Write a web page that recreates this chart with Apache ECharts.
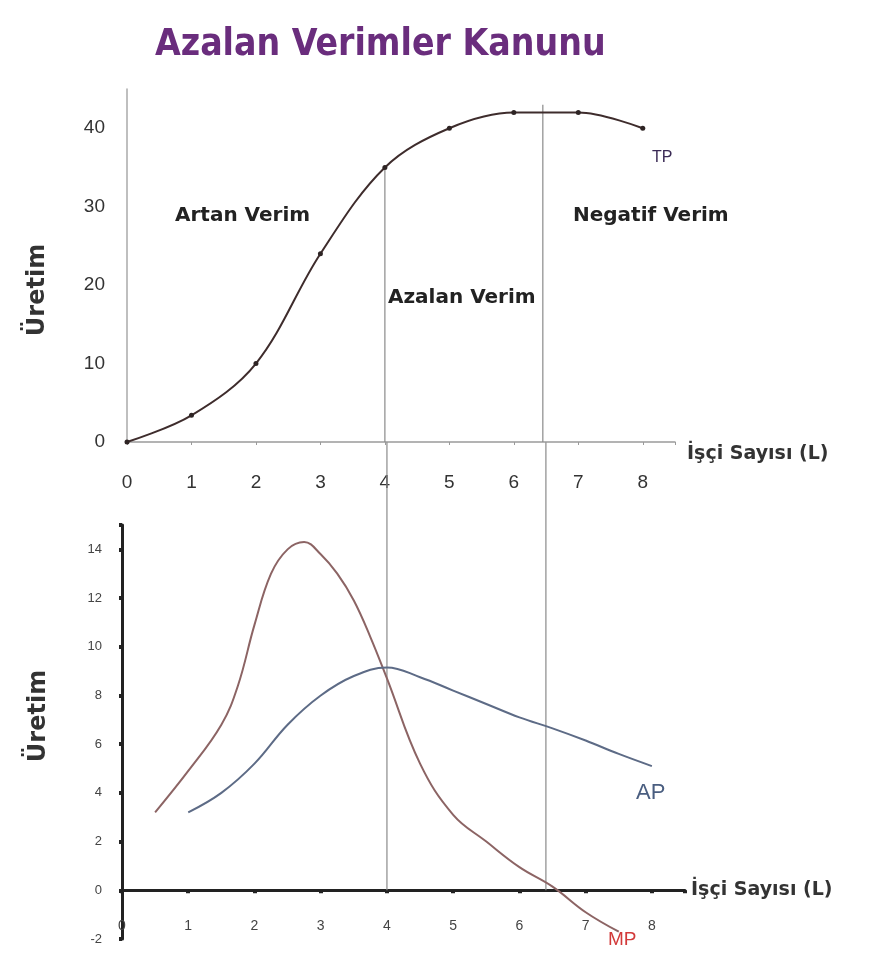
<!DOCTYPE html>
<html>
<head>
<meta charset="utf-8">
<script src="https://cdn.jsdelivr.net/npm/echarts@6/dist/echarts.min.js"></script>
<style>
html,body{margin:0;padding:0;background:#fff;}
#main{width:871px;height:977px;}
</style>
</head>
<body>
<div id="main"></div>
<script>
// ---- Data ----
const titleText = 'Azalan Verimler Kanunu';
const xAxisName = 'İşçi Sayısı (L)';
const yAxisName = 'Üretim';

// Total product (TP)
const tpData = [[0,0],[1,3.4],[2,10],[3,24],[4,35],[5,40],[6,42],[7,42],[8,40]];
// Marginal product (MP)
const mpData = [[0.5,3.2],[1,4.9],[1.5,6.8],[1.75,8.4],[2,10.9],[2.25,13.0],[2.5,14.0],[2.75,14.3],[3,13.8],[3.25,13.0],[3.5,11.9],[3.75,10.4],[4,8.7],[4.5,5.2],[5,3.1],[5.5,2.0],[6,0.95],[6.5,0.15],[7,-0.9],[7.5,-1.7]];
// Average product (AP)
const apData = [[1,3.2],[1.5,4.0],[2,5.2],[2.5,6.8],[3,8.0],[3.5,8.8],[4,9.15],[4.5,8.75],[5,8.2],[5.5,7.65],[6,7.1],[6.5,6.65],[7,6.15],[7.5,5.6],[8,5.1]];

// Stage dividers
const dividerXTop = [4, 6.45];
const dividerXBottom = [4, 6.4];
const dividerTopStart = [35, 43];   // TP-axis value where each divider begins
const dividerBridge = 18.4;          // bottom-axis value reaching up to the top chart

// Tick settings
const xTicksTop = {min:0, max:8.5, interval:1};
const yTicksTop = {min:0, max:45, interval:10};
const xTicksBottom = {min:0, max:8.5, interval:1};
const yTicksBottom = {min:-2, max:15, interval:2};

// Annotation labels
const stageLabels = ['Artan Verim', 'Azalan Verim', 'Negatif Verim'];
const curveLabels = ['TP', 'AP', 'MP'];

// ---- Chart ----
const chart = echarts.init(document.getElementById('main'), null, {renderer:'canvas'});
const tickFont = 'Liberation Sans, Arial, sans-serif';
const boldFont = 'DejaVu Sans, sans-serif';

function intFmt(maxV){ return v => (Number.isInteger(v) && v <= maxV) ? String(v) : ''; }

const dividerSeriesTop = dividerXTop.map((x,i)=>({
  type:'line', xAxisIndex:0, yAxisIndex:0, silent:true, symbol:'none', clip:false,
  data:[[x, dividerTopStart[i]],[x, 0]],
  lineStyle:{color:'#8a8a8a', width:1.2}, z:1
}));
const dividerSeriesBottom = dividerXBottom.map((x,i)=>({
  type:'line', xAxisIndex:1, yAxisIndex:1, silent:true, symbol:'none', clip:false,
  data:[[x, dividerBridge],[x, 0]],
  lineStyle:{color:'#8a8a8a', width:1.2}, z:1
}));

const option = {
  backgroundColor:'#fff',
  animation:false,
  title:{
    text:titleText, left:150, top:22,
    textStyle:{fontFamily:'DejaVu Sans Condensed, Liberation Sans Narrow, sans-serif', fontWeight:'bold', fontSize:37, color:'#6a2d7d'}
  },
  grid:[
    {left:127, top:89, width:548, height:353},
    {left:122, top:525, width:563, height:414}
  ],
  xAxis:[
    {type:'value', gridIndex:0, min:xTicksTop.min, max:xTicksTop.max, interval:xTicksTop.interval,
     name:xAxisName, nameLocation:'end', nameGap:12,
     nameTextStyle:{fontFamily:boldFont, fontWeight:'bold', fontSize:19, color:'#333', verticalAlign:'top', padding:[3,0,0,0]},
     axisLine:{onZero:false, lineStyle:{color:'#9a9a9a', width:1.5}},
     axisTick:{show:true, length:3, lineStyle:{color:'#9a9a9a'}},
     axisLabel:{margin:31, fontFamily:tickFont, fontSize:19, color:'#333', formatter:intFmt(8)},
     splitLine:{show:false}},
    {type:'value', gridIndex:1, min:xTicksBottom.min, max:xTicksBottom.max, interval:xTicksBottom.interval,
     name:xAxisName, nameLocation:'end', nameGap:6,
     nameTextStyle:{fontFamily:boldFont, fontWeight:'bold', fontSize:19, color:'#333'},
     axisLine:{onZero:true, lineStyle:{color:'#222', width:3}},
     axisTick:{show:true, length:3, lineStyle:{color:'#222', width:4}},
     axisLabel:{margin:-20, fontFamily:tickFont, fontSize:14, color:'#444', formatter:intFmt(8)},
     splitLine:{show:false}}
  ],
  yAxis:[
    {type:'value', gridIndex:0, min:yTicksTop.min, max:yTicksTop.max, interval:yTicksTop.interval,
     axisLine:{show:true, lineStyle:{color:'#aaa', width:1.5}},
     axisTick:{show:false},
     axisLabel:{margin:22, fontFamily:tickFont, fontSize:19, color:'#333', formatter:intFmt(40)},
     splitLine:{show:false}},
    {type:'value', gridIndex:1, min:yTicksBottom.min, max:yTicksBottom.max, interval:yTicksBottom.interval,
     axisLine:{show:true, onZero:false, lineStyle:{color:'#222', width:3}},
     axisTick:{show:true, length:3, lineStyle:{color:'#222', width:4}},
     axisLabel:{margin:20, fontFamily:tickFont, fontSize:13, color:'#444', formatter:intFmt(14)},
     splitLine:{show:false}}
  ],
  series:[
    ...dividerSeriesTop,
    ...dividerSeriesBottom,
    {name:'TP', type:'line', xAxisIndex:0, yAxisIndex:0, data:tpData, smooth:0.35,
     symbol:'circle', symbolSize:5, itemStyle:{color:'#2e2424'},
     lineStyle:{color:'#3e2c2c', width:2}, z:3},
    {name:'MP', type:'line', xAxisIndex:1, yAxisIndex:1, data:mpData, smooth:0.4, clip:false,
     symbol:'none', lineStyle:{color:'#8c6464', width:2}, z:3},
    {name:'AP', type:'line', xAxisIndex:1, yAxisIndex:1, data:apData, smooth:0.4,
     symbol:'none', lineStyle:{color:'#5d6b86', width:2}, z:3}
  ],
  graphic:[
    {type:'text', x:38, y:290, rotation:Math.PI/2, style:{text:yAxisName, font:'bold 24px DejaVu Sans, sans-serif', fill:'#333', align:'center', verticalAlign:'middle'}},
    {type:'text', x:39, y:716, rotation:Math.PI/2, style:{text:yAxisName, font:'bold 24px DejaVu Sans, sans-serif', fill:'#333', align:'center', verticalAlign:'middle'}},
    {type:'text', left:175, top:206, style:{text:stageLabels[0], font:'bold 20px DejaVu Sans, sans-serif', fill:'#222'}},
    {type:'text', left:388, top:288, style:{text:stageLabels[1], font:'bold 20px DejaVu Sans, sans-serif', fill:'#222'}},
    {type:'text', left:573, top:206, style:{text:stageLabels[2], font:'bold 20px DejaVu Sans, sans-serif', fill:'#222'}},
    {type:'text', left:652, top:150, style:{text:curveLabels[0], font:'16px Liberation Sans, Arial, sans-serif', fill:'#3a2a55'}},
    {type:'text', left:636, top:782, style:{text:curveLabels[1], font:'22px Liberation Sans, Arial, sans-serif', fill:'#4a5e80'}},
    {type:'text', left:608, top:930, style:{text:curveLabels[2], font:'19px Liberation Sans, Arial, sans-serif', fill:'#d23a3a'}}
  ]
};
chart.setOption(option);
</script>
</body>
</html>
